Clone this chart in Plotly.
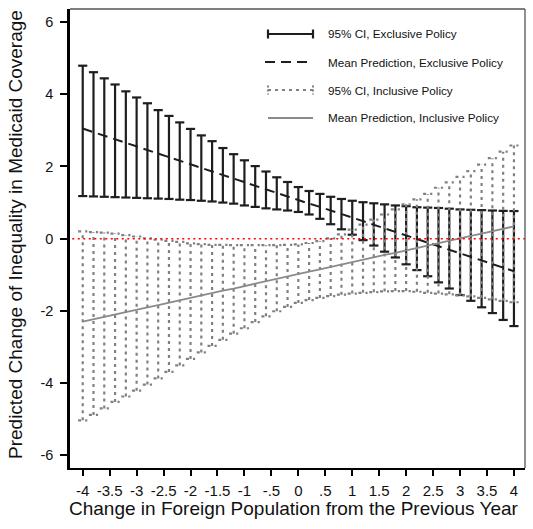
import plotly.graph_objects as go

# ---------------- data ----------------
x_vals = [-4.0, -3.8, -3.6, -3.4, -3.2, -3.0, -2.8, -2.6, -2.4, -2.2, -2.0,
          -1.8, -1.6, -1.4, -1.2, -1.0, -0.8, -0.6, -0.4, -0.2, 0.0,
          0.2, 0.4, 0.6, 0.8, 1.0, 1.2, 1.4, 1.6, 1.8, 2.0,
          2.2, 2.4, 2.6, 2.8, 3.0, 3.2, 3.4, 3.6, 3.8, 4.0]

excl_mean = [3.05, 2.95, 2.85, 2.75, 2.66, 2.56, 2.46, 2.36, 2.26, 2.16, 2.06,
             1.96, 1.86, 1.77, 1.67, 1.57, 1.47, 1.37, 1.27, 1.17, 1.07,
             0.97, 0.88, 0.78, 0.68, 0.58, 0.48, 0.38, 0.28, 0.18, 0.08,
             -0.01, -0.11, -0.21, -0.31, -0.41, -0.51, -0.61, -0.70, -0.80, -0.90]
excl_hi = [4.79, 4.61, 4.44, 4.27, 4.08, 3.91, 3.75, 3.56, 3.40, 3.22, 3.04,
           2.86, 2.70, 2.51, 2.34, 2.17, 2.01, 1.86, 1.70, 1.57, 1.43,
           1.32, 1.24, 1.16, 1.10, 1.05, 1.01, 0.98, 0.95, 0.92, 0.90,
           0.87, 0.86, 0.85, 0.83, 0.81, 0.80, 0.79, 0.78, 0.77, 0.765]
excl_lo = [1.18, 1.17, 1.16, 1.15, 1.14, 1.13, 1.12, 1.11, 1.10, 1.08, 1.07,
           1.05, 1.03, 1.00, 0.97, 0.92, 0.88, 0.84, 0.81, 0.78, 0.74,
           0.67, 0.55, 0.40, 0.26, 0.11, -0.04, -0.19, -0.36, -0.52, -0.71,
           -0.87, -1.04, -1.21, -1.38, -1.56, -1.72, -1.90, -2.06, -2.25, -2.42]

incl_mean = [-2.30, -2.23, -2.17, -2.10, -2.04, -1.97, -1.90, -1.84, -1.77, -1.71, -1.64,
             -1.57, -1.51, -1.44, -1.38, -1.31, -1.24, -1.18, -1.11, -1.05, -0.98,
             -0.91, -0.85, -0.78, -0.72, -0.65, -0.58, -0.52, -0.45, -0.39, -0.32,
             -0.25, -0.19, -0.12, -0.06, 0.01, 0.08, 0.14, 0.21, 0.27, 0.34]
incl_hi = [0.20, 0.18, 0.17, 0.14, 0.10, 0.06, 0.01, -0.03, -0.06, -0.09, -0.13,
           -0.15, -0.17, -0.17, -0.18, -0.18, -0.18, -0.18, -0.18, -0.17, -0.16,
           -0.12, -0.07, 0.01, 0.12, 0.25, 0.39, 0.53, 0.67, 0.81, 0.95,
           1.09, 1.24, 1.41, 1.56, 1.71, 1.87, 2.05, 2.23, 2.41, 2.58]
incl_lo = [-5.03, -4.88, -4.70, -4.52, -4.37, -4.21, -4.04, -3.87, -3.69, -3.51, -3.33,
           -3.15, -2.97, -2.80, -2.63, -2.48, -2.31, -2.15, -2.01, -1.89, -1.78,
           -1.70, -1.64, -1.59, -1.55, -1.52, -1.50, -1.48, -1.46, -1.45, -1.45,
           -1.47, -1.50, -1.52, -1.54, -1.57, -1.60, -1.64, -1.68, -1.72, -1.76]

x_tick_vals = [-4, -3.5, -3, -2.5, -2, -1.5, -1, -0.5, 0, 0.5, 1, 1.5, 2, 2.5, 3, 3.5, 4]
x_tick_text = ["-4", "-3.5", "-3", "-2.5", "-2", "-1.5", "-1", "-.5", "0", ".5",
               "1", "1.5", "2", "2.5", "3", "3.5", "4"]
y_tick_vals = [-6, -4, -2, 0, 2, 4, 6]
y_tick_text = ["-6", "-4", "-2", "0", "2", "4", "6"]

legend_labels = ["95% CI, Exclusive Policy", "Mean Prediction, Exclusive Policy",
                 "95% CI, Inclusive Policy", "Mean Prediction, Inclusive Policy"]

x_title = "Change in Foreign Population from the Previous Year"
y_title = "Predicted Change of Inequality in Medicaid Coverage"

# ---------------- styling ----------------
FONT = "Liberation Sans, Arial, Helvetica, sans-serif"
BLACK = "#1e1e1e"
GRAY = "#808080"
CAP = 0.085  # half cap width in x units


def rcap_path(xs, lo, hi, w):
    px, py = [], []
    for x, l, h in zip(xs, lo, hi):
        px += [x, x, None, x - w, x + w, None, x - w, x + w, None]
        py += [l, h, None, h, h, None, l, l, None]
    return px, py


fig = go.Figure()

ex_x, ex_y = rcap_path(x_vals, excl_lo, excl_hi, CAP)
fig.add_trace(go.Scatter(x=ex_x, y=ex_y, mode="lines", connectgaps=False,
                         line=dict(color=BLACK, width=2.2), hoverinfo="skip",
                         showlegend=False))

in_x, in_y = rcap_path(x_vals, incl_lo, incl_hi, CAP)
fig.add_trace(go.Scatter(x=in_x, y=in_y, mode="lines", connectgaps=False,
                         line=dict(color=GRAY, width=2.2, dash="3px,4px"),
                         hoverinfo="skip", showlegend=False))

fig.add_trace(go.Scatter(x=x_vals, y=excl_mean, mode="lines",
                         line=dict(color=BLACK, width=2, dash="10px,6px"),
                         showlegend=False))
fig.add_trace(go.Scatter(x=x_vals, y=incl_mean, mode="lines",
                         line=dict(color="#8a8a8a", width=1.8),
                         showlegend=False))

# plot area geometry in pixels (for legend placement)
L, R, T, B = 70, 8, 9, 61
W, H = 533, 529
pw, ph = W - L - R, H - T - B


def px2x(p):
    return (p - L) / pw


def px2y(p):
    return (H - B - p) / ph


shapes = []
# zero reference line
shapes.append(dict(type="line", xref="paper", yref="y", x0=0.005, x1=1, y0=0, y1=0,
                   line=dict(color="red", width=1.6, dash="2px,3.5px"), layer="above"))
# top & right border
shapes.append(dict(type="line", xref="paper", yref="paper", x0=0, x1=1, y0=1, y1=1,
                   line=dict(color="#555555", width=1.3), layer="above"))
shapes.append(dict(type="line", xref="paper", yref="paper", x0=1, x1=1, y0=0, y1=1,
                   line=dict(color="#555555", width=1.3), layer="above"))

# legend samples
rows_y = [34, 62, 90, 118]
lx0, lx1 = 268, 313
# row 1: cap line
y1 = px2y(rows_y[0])
shapes.append(dict(type="line", xref="paper", yref="paper", x0=px2x(lx0), x1=px2x(lx1),
                   y0=y1, y1=y1, line=dict(color=BLACK, width=2.2)))
for cx in (lx0, lx1):
    shapes.append(dict(type="line", xref="paper", yref="paper", x0=px2x(cx), x1=px2x(cx),
                       y0=px2y(rows_y[0] - 4.5), y1=px2y(rows_y[0] + 4.5),
                       line=dict(color=BLACK, width=2.2)))
# row 2: dashed
y2 = px2y(rows_y[1])
shapes.append(dict(type="line", xref="paper", yref="paper", x0=px2x(265), x1=px2x(313),
                   y0=y2, y1=y2, line=dict(color=BLACK, width=2, dash="10px,6px")))
# row 3: dotted with caps
y3 = px2y(rows_y[2])
shapes.append(dict(type="line", xref="paper", yref="paper", x0=px2x(lx0), x1=px2x(lx1),
                   y0=y3, y1=y3, line=dict(color=GRAY, width=2, dash="3px,4px")))
for cx in (lx0, lx1):
    shapes.append(dict(type="line", xref="paper", yref="paper", x0=px2x(cx), x1=px2x(cx),
                       y0=px2y(rows_y[2] - 4.5), y1=px2y(rows_y[2] + 4.5),
                       line=dict(color=GRAY, width=2, dash="2px,2px")))
# row 4: solid gray
y4 = px2y(rows_y[3])
shapes.append(dict(type="line", xref="paper", yref="paper", x0=px2x(lx0), x1=px2x(lx1),
                   y0=y4, y1=y4, line=dict(color="#8a8a8a", width=1.8)))

annotations = []
for lab, ry in zip(legend_labels, rows_y):
    annotations.append(dict(text=lab, xref="paper", yref="paper", x=px2x(326), y=px2y(ry),
                            xanchor="left", yanchor="middle", showarrow=False,
                            font=dict(family=FONT, size=11.7, color="#111111")))
annotations.append(dict(text=x_title, xref="paper", yref="paper", x=px2x(293.5), y=px2y(508),
                        xanchor="center", yanchor="middle", showarrow=False,
                        font=dict(family=FONT, size=19, color="#111111")))
annotations.append(dict(text=y_title, xref="paper", yref="paper", x=px2x(16), y=px2y(235),
                        xanchor="center", yanchor="middle", showarrow=False, textangle=-90,
                        font=dict(family=FONT, size=19, color="#111111")))

fig.update_layout(
    width=W, height=H,
    margin=dict(l=L, r=R, t=T, b=B),
    paper_bgcolor="white", plot_bgcolor="white",
    shapes=shapes, annotations=annotations,
    showlegend=False,
    xaxis=dict(range=[-4.236, 4.205], tickvals=x_tick_vals, ticktext=x_tick_text,
               showgrid=False, zeroline=False, showline=True, linecolor="black",
               linewidth=2, ticks="outside", ticklen=6, tickwidth=2, tickcolor="black",
               tickfont=dict(family=FONT, size=15, color="#111111"),
               ticklabelstandoff=2),
    yaxis=dict(range=[-6.35, 6.36], tickvals=y_tick_vals, ticktext=y_tick_text,
               showgrid=False, zeroline=False, showline=True, linecolor="black",
               linewidth=2.5, ticks="outside", ticklen=7, tickwidth=2, tickcolor="black",
               tickfont=dict(family=FONT, size=14.5, color="#111111"),
               ticklabelstandoff=4),
)

fig.write_html("out.html")
